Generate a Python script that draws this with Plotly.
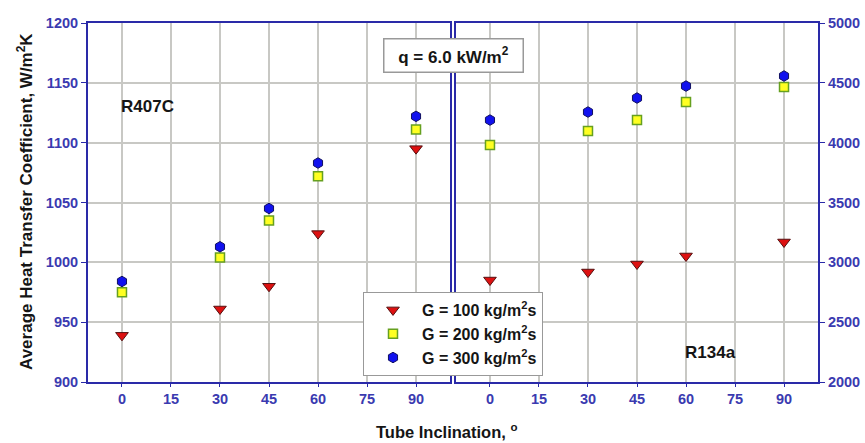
import plotly.graph_objects as go

inclination = [0, 30, 45, 60, 90]
x_ticks = [0, 15, 30, 45, 60, 75, 90]

# R407C (left axis, W/m2K)
r407c_g100 = [939, 961, 980, 1024, 1095]
r407c_g200 = [975, 1004, 1035, 1072, 1111]
r407c_g300 = [984, 1013, 1045, 1083, 1122]

# R134a (right axis, W/m2K)
r134a_g100 = [2852, 2919, 2986, 3053, 3170]
r134a_g200 = [3980, 4097, 4189, 4340, 4465]
r134a_g300 = [4189, 4256, 4373, 4473, 4557]

series_names = ["G = 100 kg/m<sup>2</sup>s", "G = 200 kg/m<sup>2</sup>s", "G = 300 kg/m<sup>2</sup>s"]

FONT = "Liberation Sans, Arial, sans-serif"
AXC = "#2a2aa8"
TICKC = "#3a3ab0"
TXT = "#151515"

W, H = 865, 443
L, R, T, B = 88, 818, 23, 382
PW, PH = R - L, B - T


def px(x):
    return (x - L) / PW


def py(y):
    return (B - y) / PH


styles = [
    dict(symbol="triangle-down", size=11, color="#dd1111", line=dict(color="#551111", width=1)),
    dict(symbol="square", size=9, color="#ffff22", line=dict(color="#66a020", width=1.5)),
    dict(symbol="hexagon", size=10.5, color="#1111ee", line=dict(color="#101060", width=1)),
]

fig = go.Figure()
for name, vals, st in zip(series_names, [r407c_g100, r407c_g200, r407c_g300], styles):
    fig.add_trace(go.Scatter(x=inclination, y=vals, mode="markers", name=name,
                             marker=st, xaxis="x", yaxis="y", cliponaxis=False))
for name, vals, st in zip(series_names, [r134a_g100, r134a_g200, r134a_g300], styles):
    fig.add_trace(go.Scatter(x=inclination, y=vals, mode="markers", name=name,
                             marker=st, xaxis="x2", yaxis="y2", showlegend=False, cliponaxis=False))

common_x = dict(range=[-10.4, 100.4], tickvals=x_ticks, showgrid=True, gridcolor="#c8c8c4",
                gridwidth=1.5, showline=True, linecolor=AXC, linewidth=2, mirror=True,
                ticks="outside", ticklen=3, tickcolor=AXC, zeroline=False, automargin=False,
                tickfont=dict(family=FONT, size=14.5, color=TICKC, weight="bold"))
common_y = dict(showgrid=True, gridcolor="#c8c8c4", gridwidth=1.5, showline=True,
                linecolor=AXC, linewidth=2, mirror=True, ticks="outside", ticklen=5,
                tickcolor=AXC, zeroline=False, automargin=False,
                tickfont=dict(family=FONT, size=14.5, color=TICKC, weight="bold"))

fig.update_layout(
    width=W, height=H,
    margin=dict(l=L, r=W - R, t=T, b=H - B, autoexpand=False),
    paper_bgcolor="white", plot_bgcolor="white",
    font=dict(family=FONT),
    xaxis=dict(domain=[0, px(450)], anchor="y", **common_x),
    xaxis2=dict(domain=[px(456), 1], anchor="y2", **common_x),
    yaxis=dict(domain=[0, 1], anchor="x", range=[900, 1200], dtick=50, side="left", **common_y),
    yaxis2=dict(domain=[0, 1], anchor="x2", range=[2000, 5000], dtick=500, side="right", **common_y),
    showlegend=True,
    legend=dict(x=px(363), y=py(292), xanchor="left", yanchor="top",
                bgcolor="white", bordercolor="#999999", borderwidth=1,
                font=dict(family=FONT, size=16, color=TXT, weight="bold"),
                itemsizing="trace", itemwidth=48, tracegroupgap=2),
    annotations=[
        dict(text="Average Heat Transfer Coefficient, W/m<sup>2</sup>K", xref="paper", yref="paper",
             x=px(25), y=py(202), xanchor="center", yanchor="middle", textangle=-90, showarrow=False,
             font=dict(family=FONT, size=17, color=TXT, weight="bold")),
        dict(text="Tube Inclination, <sup>o</sup>", xref="paper", yref="paper",
             x=px(447), y=py(431), xanchor="center", yanchor="middle", showarrow=False,
             font=dict(family=FONT, size=16.5, color=TXT, weight="bold")),
        dict(text="q = 6.0 kW/m<sup>2</sup>", xref="paper", yref="paper",
             x=px(453), y=py(55), xanchor="center", yanchor="middle", showarrow=False, bgcolor="white",
             bordercolor="#999999", borderwidth=1.5, borderpad=5, width=128,
             font=dict(family=FONT, size=17, color=TXT, weight="bold")),
        dict(text="R407C", xref="x", yref="y", x=-1, y=1130, xanchor="left", yanchor="middle",
             showarrow=False, font=dict(family=FONT, size=17, color=TXT, weight="bold")),
        dict(text="R134a", xref="x2", yref="y2", x=59, y=2250, xanchor="left", yanchor="middle",
             showarrow=False, font=dict(family=FONT, size=17, color=TXT, weight="bold")),
    ],
)

fig.write_html("out.html", config={"displayModeBar": False},
               post_script="document.body.style.margin='0';")
